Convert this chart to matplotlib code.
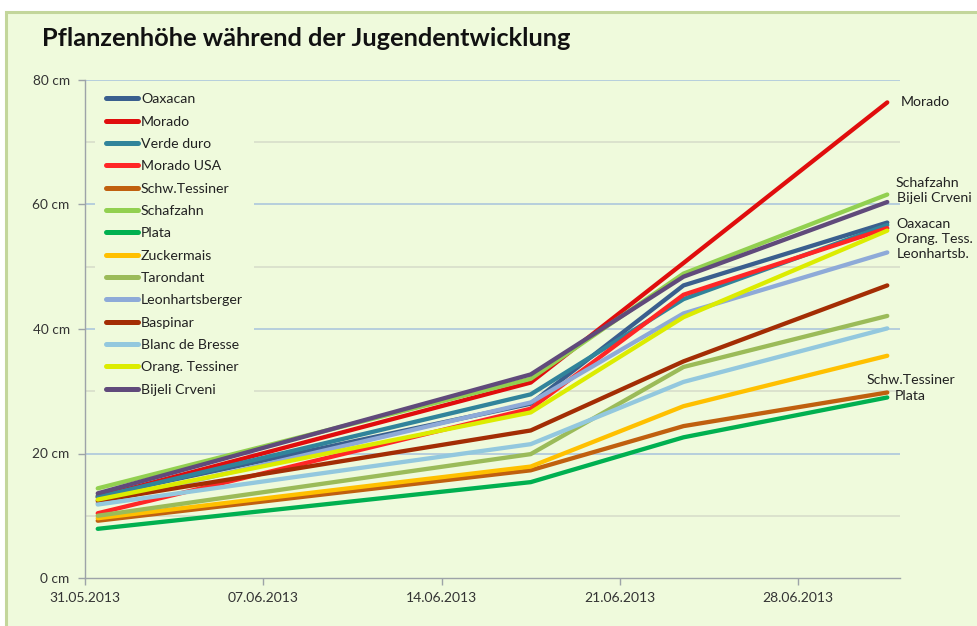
import matplotlib
matplotlib.use("Agg")
import matplotlib.pyplot as plt
import matplotlib.dates as mdates
from matplotlib.patches import Rectangle
import pandas as pd
import numpy as np

plt.rcParams['font.family'] = ['Lato', 'DejaVu Sans']

dates = ["2013-05-31", "2013-06-17", "2013-06-23", "2013-07-01"]

series_names = ["Oaxacan", "Morado", "Verde duro", "Morado USA", "Schw.Tessiner",
                "Schafzahn", "Plata", "Zuckermais", "Tarondant", "Leonhartsberger",
                "Baspinar", "Blanc de Bresse", "Orang. Tessiner", "Bijeli Crveni"]

oaxacan = [13.2, 28.0, 47.0, 57.1]
morado = [13.0, 31.4, 50.6, 76.4]
verde_duro = [13.0, 29.5, 44.8, 56.7]
morado_usa = [10.4, 27.2, 45.5, 56.2]
schw_tessiner = [9.2, 17.3, 24.4, 29.8]
schafzahn = [14.4, 32.0, 48.9, 61.6]
plata = [7.9, 15.4, 22.6, 29.0]
zuckermais = [9.6, 17.9, 27.6, 35.7]
tarondant = [10.0, 19.9, 33.9, 42.1]
leonhartsberger = [12.0, 28.2, 42.5, 52.3]
baspinar = [12.4, 23.7, 34.8, 47.0]
blanc_de_bresse = [11.8, 21.5, 31.5, 40.1]
orang_tessiner = [12.6, 26.6, 41.9, 55.8]
bijeli_crveni = [13.6, 32.7, 48.4, 60.4]

values = [oaxacan, morado, verde_duro, morado_usa, schw_tessiner, schafzahn, plata,
          zuckermais, tarondant, leonhartsberger, baspinar, blanc_de_bresse,
          orang_tessiner, bijeli_crveni]

colors = ["#3a5f8e", "#e00d0d", "#31849b", "#ff2626", "#c0600f", "#92d050", "#00b050",
          "#ffc000", "#9bbb59", "#8eaad8", "#a32d04", "#93c8de", "#dcec00", "#604a7b"]

end_labels = ["Morado", "Schafzahn", "Bijeli Crveni", "Oaxacan", "Orang. Tess.",
              "Leonhartsb.", "Schw.Tessiner", "Plata"]
end_label_series = ["Morado", "Schafzahn", "Bijeli Crveni", "Oaxacan", "Orang. Tessiner",
                    "Leonhartsberger", "Schw.Tessiner", "Plata"]
# offsets in pixels (dx, dy up)
end_offsets = [(13, 0), (8, 12), (10, 4), (9, -1), (9, -8), (9, -2), (-21, 12), (7, 1)]

y_ticks = [0, 20, 40, 60, 80]
y_tick_labels = ["0 cm", "20 cm", "40 cm", "60 cm", "80 cm"]
x_ticks = ["2013-05-31", "2013-06-07", "2013-06-14", "2013-06-21", "2013-06-28"]

W, H = 977, 626
fig = plt.figure(figsize=(W / 100, H / 100), dpi=100)
fig.patch.set_facecolor("white")

panel_color = "#effadc"
bg = fig.add_axes([0, 0, 1, 1], zorder=-10)
bg.set_xlim(0, W)
bg.set_ylim(0, H)
bg.axis("off")
bg.add_patch(Rectangle((6, -20), W + 40, H - 12 + 20, facecolor=panel_color,
                       edgecolor="#c3d69b", linewidth=2.2))

fig.text(42 / W, 1 - 38 / H, "Pflanzenhöhe während der Jugendentwicklung",
         fontsize=18.3, fontweight="bold", color="#111111", va="center", ha="left")

ax = fig.add_axes([85 / W, 1 - 578 / H, (900 - 85) / W, (578 - 80) / H], zorder=1)
ax.set_facecolor("none")

xs = pd.to_datetime(dates) + pd.Timedelta(hours=12)
for name, vals, c in zip(series_names, values, colors):
    ax.plot(xs, vals, color=c, lw=3.1, solid_capstyle="round",
            solid_joinstyle="round", label=name, zorder=3)

ax.set_xlim(pd.Timestamp("2013-05-31"), pd.Timestamp("2013-07-02"))
ax.set_ylim(0, 80)

ax.set_yticks(y_ticks)
ax.set_yticklabels(y_tick_labels)
ax.set_yticks([10, 30, 50, 70], minor=True)
ax.set_xticks(pd.to_datetime(x_ticks))
ax.xaxis.set_major_formatter(mdates.DateFormatter("%d.%m.%Y"))

for y in y_ticks[1:]:
    ax.axhline(y, color="#a7c2dc", lw=1.1, zorder=1)
for y in [10, 30, 50, 70]:
    ax.axhline(y, color="#d6dbc9", lw=1.1, zorder=1)

for s in ["top", "right"]:
    ax.spines[s].set_visible(False)
for s in ["left", "bottom"]:
    ax.spines[s].set_color("#9da3a8")
    ax.spines[s].set_linewidth(1.0)

ax.tick_params(axis="y", which="major", direction="out", length=5, width=1,
               color="#9da3a8", labelsize=9.8, labelcolor="#333333", pad=6)
ax.tick_params(axis="y", which="minor", length=0)
ax.tick_params(axis="x", direction="out", length=5, width=1, color="#9da3a8",
               labelsize=10, labelcolor="#333333", pad=5)

leg = ax.legend(loc="upper left", bbox_to_anchor=(10 / 815, 1 - 2 / 498),
                borderaxespad=0, frameon=True, facecolor=panel_color, edgecolor="none",
                framealpha=1, fontsize=10.2, handlelength=2.2, handletextpad=0.25,
                labelspacing=0.73, borderpad=0.8, fancybox=False)
leg.set_zorder(4)
for t in leg.get_texts():
    t.set_color("#222222")
for h in leg.get_lines():
    h.set_linewidth(3.6)

name_to_vals = dict(zip(series_names, values))
for lab, sname, (dx, dy) in zip(end_labels, end_label_series, end_offsets):
    ax.annotate(lab, xy=(xs[-1], name_to_vals[sname][-1]), xytext=(dx * 0.72, dy * 0.72),
                textcoords="offset points", ha="left", va="center", fontsize=10.2,
                color="#222222", annotation_clip=False, zorder=5)

fig.savefig("out.png", dpi=100, facecolor=fig.get_facecolor())
